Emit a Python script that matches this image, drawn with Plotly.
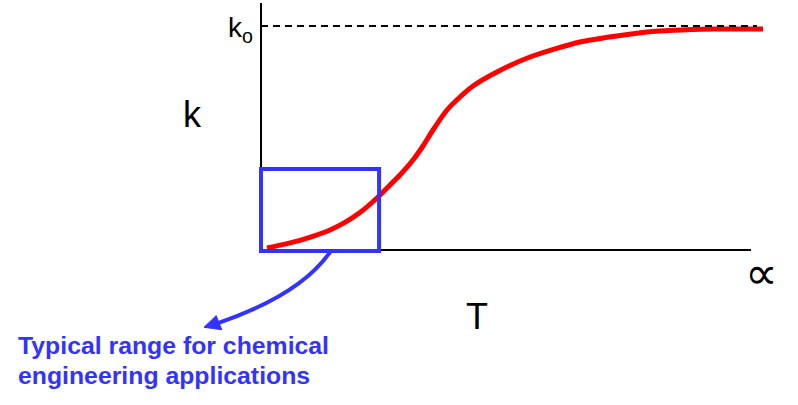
import plotly.graph_objects as go

# Schematic data: rate constant k vs temperature T (k normalised so k_o = 1, T normalised to axis end = 1)
T_vals = [0.0122, 0.0490, 0.0796, 0.1102, 0.1408, 0.1714, 0.2020, 0.2367, 0.2633, 0.2837, 0.3102,
          0.3306, 0.3510, 0.3796, 0.4061, 0.4327, 0.4816, 0.5490, 0.6510, 0.7878, 0.9224, 1.0245]
k_vals = [0.0089, 0.0260, 0.0430, 0.0640, 0.0893, 0.1230, 0.1670, 0.2321, 0.2900, 0.3350, 0.4018,
          0.4643, 0.5357, 0.6250, 0.6830, 0.7321, 0.7946, 0.8616, 0.9286, 0.9732, 0.9866, 0.9866]
k_o = 1.0
T_axis_end = 1.0
box_T = [0.0, 0.241]
box_k = [-0.004, 0.362]

BLUE = "rgb(51,51,255)"
FONT = "Arial, Liberation Sans, sans-serif"

fig = go.Figure()
fig.add_trace(go.Scatter(x=T_vals, y=k_vals, mode="lines",
                         line=dict(color="rgb(255,0,0)", width=5, shape="spline", smoothing=0.6),
                         hoverinfo="skip", showlegend=False))

shapes = [
    # axes
    dict(type="line", xref="x", yref="y", x0=0, x1=0, y0=0, y1=1.1027, line=dict(color="black", width=2)),
    dict(type="line", xref="x", yref="y", x0=0, x1=T_axis_end, y0=0, y1=0, line=dict(color="black", width=2)),
    # asymptote
    dict(type="line", xref="x", yref="y", x0=0, x1=1.012, y0=k_o, y1=k_o,
         line=dict(color="black", width=1.8, dash="7px,5px")),
    # range box
    dict(type="rect", xref="x", yref="y", x0=box_T[0], x1=box_T[1], y0=box_k[0], y1=box_k[1],
         line=dict(color=BLUE, width=4), fillcolor="rgba(0,0,0,0)"),
    # curved arrow shaft
    dict(type="path", xref="x", yref="y", path="M 0.141,-0.009 Q 0.080,-0.201 -0.0878,-0.326",
         line=dict(color=BLUE, width=4), fillcolor="rgba(0,0,0,0)"),
    # arrow head
    dict(type="path", xref="x", yref="y", path="M -0.1163,-0.345 L -0.0800,-0.356 L -0.0915,-0.293 Z",
         line=dict(color=BLUE, width=1), fillcolor=BLUE),
]

annotations = [
    dict(x=-0.139, y=0.603, text="k", showarrow=False, font=dict(size=36, color="black", family=FONT)),
    dict(x=0.441, y=-0.295, text="T", showarrow=False, font=dict(size=36, color="black", family=FONT)),
    dict(x=-0.041, y=0.985, text="k<sub>o</sub>", showarrow=False, font=dict(size=28, color="black", family=FONT)),
    dict(x=1.022, y=-0.103, text="∝", showarrow=False, font=dict(size=46, color="black", family="DejaVu Sans")),
    dict(x=-0.500, y=-0.425, text="<b>Typical range for chemical</b>", showarrow=False, xanchor="left",
         font=dict(size=24.8, color=BLUE, family=FONT)),
    dict(x=-0.500, y=-0.560, text="<b>engineering applications</b>", showarrow=False, xanchor="left",
         font=dict(size=24.8, color=BLUE, family=FONT)),
]

fig.update_layout(
    width=798, height=405, autosize=False,
    margin=dict(l=0, r=0, t=0, b=0),
    paper_bgcolor="white", plot_bgcolor="white",
    xaxis=dict(range=[-0.53265, 1.09592], visible=False, fixedrange=True),
    yaxis=dict(range=[-0.69196, 1.11607], visible=False, fixedrange=True),
    shapes=shapes, annotations=annotations, showlegend=False,
)

fig.write_html("out.html", config={"displayModeBar": False},
               post_script="document.body.style.margin='0';document.body.style.overflow='hidden';")
